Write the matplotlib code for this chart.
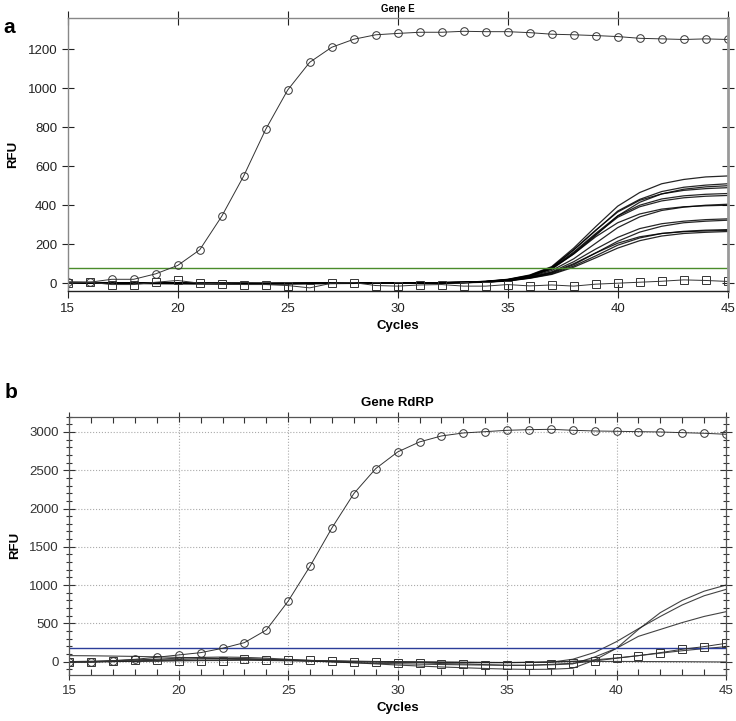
import numpy as np
import matplotlib
matplotlib.use("Agg")
import matplotlib.pyplot as plt
from matplotlib.ticker import MultipleLocator

plt.rcParams["font.family"] = ["Liberation Sans", "DejaVu Sans"]

cycles = list(range(15, 46))

# ---- Gene E (panel a) ----
e_pos = [5, 5, 20, 20, 48, 91, 171, 343, 550, 789, 991, 1133, 1210, 1251, 1274, 1281,
         1287, 1287, 1292, 1290, 1290, 1285, 1277, 1274, 1270, 1265, 1256, 1253, 1250,
         1253, 1250]
e_neg = [0, 5, -7, -7, 5, 14, 0, -3, -7, -7, -12, -24, 0, 3, -12, -15, -9, -7, -15,
         -15, -7, -14, -9, -15, -5, 0, 5, 10, 17, 14, 9]
e_samples = [
    [3, 2, 1, 0, 0, -1, -1, -2, -2, -2, -1, -1, 0, 0, 0, 1, 2, 3, 5, 10, 20, 42, 85, 180, 290, 395, 465, 510, 532, 545, 550],
    [2, 2, 1, 1, 0, 0, -1, -1, -2, -1, -1, 0, 0, 0, 1, 1, 2, 3, 5, 9, 18, 38, 80, 170, 270, 370, 430, 470, 492, 503, 510],
    [4, 3, 2, 1, 0, 0, -1, -1, -1, -2, -2, -1, -1, 0, 0, 1, 2, 3, 5, 9, 19, 40, 82, 172, 272, 365, 425, 458, 476, 485, 490],
    [1, 1, 0, 0, -1, -1, -2, -2, -2, -3, -2, -2, -1, -1, 0, 0, 1, 2, 4, 8, 17, 38, 78, 160, 255, 345, 400, 432, 448, 456, 460],
    [5, 4, 3, 2, 1, 0, 0, -1, -1, -1, -1, 0, 0, 0, 1, 1, 2, 3, 5, 8, 16, 36, 75, 155, 250, 338, 392, 422, 438, 446, 450],
    [0, 0, -1, -1, -2, -2, -3, -3, -3, -3, -2, -2, -1, -1, 0, 0, 1, 2, 3, 7, 14, 32, 65, 125, 205, 285, 340, 373, 390, 400, 405],
    [3, 3, 2, 1, 1, 0, 0, 0, -1, -1, -1, 0, 0, 0, 1, 1, 2, 3, 4, 8, 16, 35, 72, 150, 238, 310, 355, 380, 392, 397, 400],
    [2, 1, 1, 0, 0, -1, -1, -1, -2, -2, -1, -1, 0, 0, 0, 1, 1, 2, 4, 7, 14, 30, 58, 110, 175, 235, 280, 305, 318, 326, 330],
    [1, 1, 0, 0, 0, -1, -1, -2, -2, -2, -2, -1, -1, 0, 0, 0, 1, 2, 3, 6, 13, 28, 52, 95, 155, 215, 262, 292, 310, 318, 323],
    [4, 3, 3, 2, 1, 1, 0, 0, 0, -1, -1, -1, 0, 0, 0, 1, 1, 2, 3, 6, 13, 28, 55, 100, 155, 205, 238, 255, 264, 268, 271],
    [0, -1, -1, -2, -2, -3, -3, -3, -4, -3, -3, -2, -2, -1, -1, 0, 0, 1, 2, 5, 11, 25, 45, 82, 130, 180, 218, 242, 255, 261, 265],
    [2, 2, 1, 1, 0, 0, 0, -1, -1, -1, -1, -1, 0, 0, 0, 1, 1, 2, 3, 6, 12, 26, 48, 88, 140, 195, 232, 255, 266, 272, 275],
    [3, 2, 2, 1, 0, 0, -1, -1, -1, -2, -1, -1, 0, 0, 1, 1, 2, 3, 5, 8, 17, 36, 74, 150, 245, 345, 415, 458, 482, 494, 500],
]
e_threshold = 77

# ---- Gene RdRP (panel b) ----
r_pos = [0, 0, 13, 30, 57, 87, 117, 174, 248, 413, 791, 1248, 1748, 2196, 2522, 2739,
         2870, 2948, 2987, 3004, 3022, 3030, 3035, 3022, 3013, 3009, 3004, 3000, 2991,
         2983, 2970]
r_neg = [-9, -9, 9, 22, 22, 13, 13, 13, 30, 22, 22, 17, 9, 0, 0, -13, -13, -26, -30,
         -39, -48, -48, -35, -22, 9, 43, 78, 117, 161, 196, 239]
r_samples = [
    [78, 76, 72, 68, 62, 55, 48, 40, 32, 24, 16, 10, 5, 2, 0, -2, -4, -6, -8, -10, -12, -12, -8, 31, 120, 261, 430, 590, 740, 860, 943],
    [0, 5, 12, 22, 32, 45, 55, 60, 55, 45, 30, 15, 0, -15, -30, -45, -58, -70, -80, -90, -98, -102, -100, -87, 20, 174, 420, 640, 800, 920, 1000],
    [-5, -3, 0, 8, 18, 28, 38, 42, 40, 32, 20, 8, -5, -15, -22, -28, -33, -38, -42, -45, -48, -48, -42, -30, 60, 174, 330, 420, 510, 590, 652],
    [0, 0, 2, 5, 10, 15, 20, 22, 20, 15, 10, 5, 0, -3, -6, -9, -11, -13, -14, -14, -13, -10, -5, 0, 2, 2, 1, 0, -1, -3, -5],
    [-3, -2, 0, 3, 6, 10, 14, 18, 20, 20, 18, 14, 10, 6, 2, -2, -5, -8, -10, -12, -12, -10, -4, 5, 22, 48, 78, 110, 142, 170, 195],
]
r_threshold = 174

fig = plt.figure(figsize=(7.36, 7.21), dpi=100)

# panel a
ax1 = fig.add_axes([0.092, 0.5964, 0.8967, 0.3786])
for s in e_samples:
    ax1.plot(cycles, s, color="black", lw=0.9, alpha=0.85)
ax1.axhline(e_threshold, color="#4a8c2a", lw=1.0)
ax1.plot(cycles, e_neg, color="#333333", lw=0.7, marker="s", ms=5.5,
         mfc="none", mec="#333333", mew=0.7)
ax1.plot(cycles, e_pos, color="#333333", lw=0.7, marker="o", ms=5.5,
         mfc="none", mec="#333333", mew=0.7)
ax1.set_xlim(15, 45)
ax1.set_ylim(-40, 1360)
ax1.set_xticks([15, 20, 25, 30, 35, 40, 45])
ax1.set_yticks([0, 200, 400, 600, 800, 1000, 1200])
for side in ["top", "left"]:
    ax1.spines[side].set_color("#888888")
    ax1.spines[side].set_linewidth(1.0)
ax1.spines["right"].set_color("#999999")
ax1.spines["right"].set_linewidth(2.0)
ax1.spines["bottom"].set_color("#222222")
ax1.spines["bottom"].set_linewidth(1.0)
ax1.tick_params(axis="x", direction="inout", length=10, width=0.8, labelsize=9.5,
                colors="#222222", top=True)
ax1.tick_params(axis="y", direction="inout", length=8, width=0.8, labelsize=9.5,
                colors="#222222", right=True)
ax1.set_title("Gene E", fontsize=7, fontweight="bold", pad=4)
ax1.set_xlabel("Cycles", fontsize=9.5, fontweight="bold")
ax1.set_ylabel("RFU", fontsize=9.5, fontweight="bold", labelpad=6)

# panel b
ax2 = fig.add_axes([0.0942, 0.0638, 0.8922, 0.3583])
ax2.grid(True, which="major", color="#aaaaaa", ls=":", lw=0.8)
for s in r_samples:
    ax2.plot(cycles, s, color="#222222", lw=0.8, alpha=0.85)
ax2.axhline(r_threshold, color="#2b3d99", lw=1.0)
ax2.plot(cycles, r_neg, color="#333333", lw=0.7, marker="s", ms=5.5,
         mfc="none", mec="#333333", mew=0.7)
ax2.plot(cycles, r_pos, color="#333333", lw=0.7, marker="o", ms=5.5,
         mfc="none", mec="#333333", mew=0.7)
ax2.set_xlim(15, 45)
ax2.set_ylim(-175, 3200)
ax2.set_xticks([15, 20, 25, 30, 35, 40, 45])
ax2.set_yticks([0, 500, 1000, 1500, 2000, 2500, 3000])
ax2.xaxis.set_minor_locator(MultipleLocator(1))
ax2.yaxis.set_minor_locator(MultipleLocator(100))
for side in ax2.spines.values():
    side.set_color("#555555")
    side.set_linewidth(0.9)
ax2.tick_params(which="both", top=True, right=True, colors="#333333", width=0.8)
ax2.tick_params(axis="x", which="major", direction="inout", length=7, labelsize=9.5)
ax2.tick_params(axis="x", which="minor", direction="in", length=4)
ax2.tick_params(axis="y", which="major", direction="inout", length=8, labelsize=9.5)
ax2.tick_params(axis="y", which="minor", direction="inout", length=5)
ax2.set_title("Gene RdRP", fontsize=9.5, fontweight="bold", pad=8)
ax2.set_xlabel("Cycles", fontsize=9.5, fontweight="bold")
ax2.set_ylabel("RFU", fontsize=9.5, fontweight="bold", labelpad=6)

fig.text(0.004, 0.962, "a", fontsize=15, fontweight="bold", va="center")
fig.text(0.006, 0.455, "b", fontsize=15, fontweight="bold", va="center")

fig.savefig("out.png", dpi=100)
